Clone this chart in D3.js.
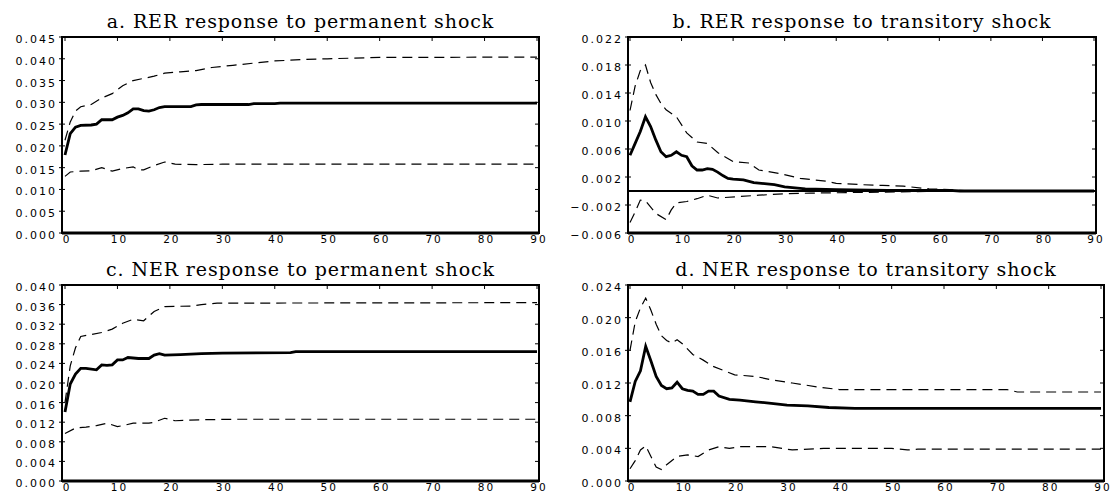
<!DOCTYPE html>
<html>
<head>
<meta charset="utf-8">
<script src="https://cdn.jsdelivr.net/npm/d3@7"></script>
<style>
  body { margin: 0; background: #fff; }
  .title { font-family: "DejaVu Serif", serif; font-size: 19px; letter-spacing: 0.9px; fill: #000; }
  .tick-label { font-family: "DejaVu Sans", sans-serif; font-size: 11px; letter-spacing: 2px; fill: #000; }
  .x-label { font-size: 10.5px; }
</style>
</head>
<body>
<script>
// periods on the horizontal axis
var periodTicks = [0, 10, 20, 30, 40, 50, 60, 70, 80, 90];

// a. RER response to permanent shock  [period, value]
var aMid = [[0,0.0179],[1,0.0228],[2,0.0243],[3,0.0247],[5,0.0248],[6,0.025],[7,0.026],[9,0.026],[10,0.0266],[11,0.027],[12,0.0276],[13,0.0285],[14,0.0285],[15,0.0281],[16,0.028],[17,0.0283],[18,0.0288],[19,0.029],[24,0.029],[25,0.0294],[26,0.0295],[35,0.0295],[36,0.0297],[40,0.0297],[41,0.0298],[90,0.0298]];
var aUp = [[0,0.0213],[1,0.0255],[2,0.028],[3,0.029],[5,0.0295],[7,0.031],[9,0.032],[11,0.0338],[13,0.035],[15,0.0355],[17,0.036],[19,0.0367],[22,0.037],[25,0.0373],[28,0.038],[32,0.0385],[36,0.039],[40,0.0395],[45,0.0398],[50,0.040],[60,0.0403],[90,0.0404]];
var aLo = [[0,0.013],[1,0.014],[3,0.0142],[5,0.0143],[7,0.015],[9,0.0142],[11,0.0148],[13,0.0152],[14,0.0145],[15,0.0145],[17,0.0155],[19,0.0163],[21,0.0158],[25,0.0157],[30,0.0158],[90,0.0158]];
var aTicks = [0, 0.005, 0.010, 0.015, 0.020, 0.025, 0.030, 0.035, 0.040, 0.045];

// b. RER response to transitory shock
var bMid = [[0,0.0051],[1,0.0068],[2,0.0085],[3,0.0106],[4,0.0092],[5,0.0073],[6,0.0056],[7,0.0049],[8,0.0051],[9,0.0056],[10,0.0051],[11,0.0049],[12,0.0036],[13,0.003],[14,0.003],[15,0.0032],[16,0.0031],[17,0.0027],[18,0.0022],[19,0.0018],[20,0.0017],[22,0.0016],[24,0.0012],[28,0.0009],[30,0.0006],[34,0.0003],[40,0.0002],[50,0.0001],[62,0.0001],[64,0],[90,0]];
var bUp = [[0,0.0115],[1,0.015],[2,0.0172],[3,0.018],[4,0.0155],[5,0.0138],[6,0.0125],[7,0.0116],[9,0.0106],[11,0.0083],[13,0.007],[15,0.0068],[17,0.0055],[20,0.0042],[23,0.004],[25,0.003],[29,0.0025],[33,0.0018],[38,0.0014],[40,0.0011],[45,0.0009],[49,0.0008],[53,0.0007],[58,0.0003],[62,0.0002],[66,0],[90,0]];
var bLo = [[0,-0.0045],[1,-0.003],[2,-0.0013],[3,-0.0014],[5,-0.0032],[7,-0.0041],[8,-0.0027],[9,-0.0017],[11,-0.0015],[13,-0.0011],[15,-0.0006],[17,-0.001],[21,-0.0008],[25,-0.0006],[30,-0.0004],[35,-0.0003],[45,-0.0002],[55,-0.0001],[62,0],[90,0]];
var bTicks = [-0.006, -0.002, 0.002, 0.006, 0.010, 0.014, 0.018, 0.022];

// c. NER response to permanent shock
var cMid = [[0,0.0141],[1,0.0198],[2,0.0218],[3,0.023],[4,0.023],[6,0.0227],[7,0.0237],[8,0.0236],[9,0.0237],[10,0.0247],[11,0.0247],[12,0.0252],[14,0.025],[16,0.025],[17,0.0257],[18,0.026],[19,0.0257],[22,0.0258],[26,0.026],[30,0.0261],[43,0.0262],[44,0.0264],[90,0.0264]];
var cUp = [[0,0.016],[1,0.0235],[2,0.0272],[3,0.0295],[5,0.0299],[7,0.0303],[9,0.031],[11,0.0322],[13,0.033],[15,0.0327],[17,0.0346],[19,0.0356],[24,0.0357],[26,0.036],[29,0.0363],[90,0.0364]];
var cLo = [[0,0.0097],[2,0.0108],[4,0.011],[6,0.0113],[8,0.0118],[10,0.0111],[11,0.0113],[13,0.0118],[16,0.0118],[17,0.012],[19,0.0128],[21,0.0123],[26,0.0125],[32,0.0126],[90,0.0126]];
var cTicks = [0, 0.004, 0.008, 0.012, 0.016, 0.020, 0.024, 0.028, 0.032, 0.036, 0.040];

// d. NER response to transitory shock
var dMid = [[0,0.0097],[1,0.0122],[2,0.0135],[3,0.0165],[4,0.0147],[5,0.0128],[6,0.0117],[7,0.0113],[8,0.0114],[9,0.0121],[10,0.0113],[11,0.0111],[12,0.011],[13,0.0106],[14,0.0106],[15,0.011],[16,0.011],[17,0.0104],[19,0.01],[21,0.0099],[24,0.0097],[27,0.0095],[30,0.0093],[34,0.0092],[38,0.009],[43,0.0089],[90,0.0089]];
var dUp = [[0,0.016],[1,0.0195],[2,0.0212],[3,0.0224],[4,0.0209],[5,0.0192],[6,0.0178],[7,0.0172],[8,0.0169],[9,0.0173],[10,0.0168],[12,0.0155],[14,0.0148],[16,0.014],[18,0.0135],[20,0.013],[24,0.0128],[27,0.0124],[31,0.012],[36,0.0115],[40,0.0112],[72,0.0112],[74,0.0109],[90,0.0109]];
var dLo = [[0,0.0015],[1,0.0025],[2,0.0038],[3,0.0043],[4,0.003],[5,0.0017],[6,0.0014],[7,0.002],[9,0.003],[11,0.0032],[13,0.003],[15,0.0038],[17,0.0042],[19,0.004],[21,0.0042],[27,0.0042],[31,0.0038],[37,0.004],[50,0.004],[53,0.0038],[55,0.0039],[90,0.0039]];
var dTicks = [0, 0.004, 0.008, 0.012, 0.016, 0.020, 0.024];

var width = 1111, height = 494;

var svg = d3.select("body").append("svg")
    .attr("width", width)
    .attr("height", height);

var panels = [
  {title: "a. RER response to permanent shock", mid: aMid, up: aUp, lo: aLo, ticks: aTicks,
   left: 62, right: 539, top: 37, bottom: 233, x0: 65, x1: 537, zero: false},
  {title: "b. RER response to transitory shock", mid: bMid, up: bUp, lo: bLo, ticks: bTicks,
   left: 628, right: 1096, top: 37, bottom: 233, x0: 630, x1: 1094, zero: true},
  {title: "c. NER response to permanent shock", mid: cMid, up: cUp, lo: cLo, ticks: cTicks,
   left: 62, right: 539, top: 285, bottom: 481, x0: 65, x1: 537, zero: false},
  {title: "d. NER response to transitory shock", mid: dMid, up: dUp, lo: dLo, ticks: dTicks,
   left: 628, right: 1104, top: 285, bottom: 481, x0: 630, x1: 1101, zero: false}
];

panels.forEach(drawPanel);

function drawPanel(p) {
    var x = d3.scaleLinear().domain([0, 90]).range([p.x0, p.x1]);
    var y = d3.scaleLinear().domain(d3.extent(p.ticks)).range([p.bottom, p.top]);
    var g = svg.append("g");

    var line = d3.line()
        .x(function(d) { return x(d[0]); })
        .y(function(d) { return y(d[1]); });

    // title
    g.append("text")
        .attr("class", "title")
        .attr("x", (p.left + p.right) / 2)
        .attr("y", p.top - 9)
        .attr("text-anchor", "middle")
        .text(p.title);

    // y labels
    g.selectAll(".ylab")
        .data(p.ticks)
        .enter().append("text")
        .attr("class", "tick-label")
        .attr("x", p.left - 5)
        .attr("y", function(d) { return y(d) + 6; })
        .attr("text-anchor", "end")
        .text(function(d) { return d3.format(".3f")(d).replace("-", "\u2212"); });

    // x labels
    g.selectAll(".xlab")
        .data(periodTicks)
        .enter().append("text")
        .attr("class", "tick-label x-label")
        .attr("x", function(d) { return x(d) + 2; })
        .attr("y", p.bottom + 10)
        .attr("text-anchor", "middle")
        .text(function(d) { return d; });

    // inward ticks
    g.selectAll(".tt")
        .data(periodTicks)
        .enter().append("line")
        .attr("x1", function(d) { return x(d); })
        .attr("x2", function(d) { return x(d); })
        .attr("y1", p.top)
        .attr("y2", p.top + 4)
        .style("stroke", "#000");
    g.selectAll(".rt")
        .data(p.ticks)
        .enter().append("line")
        .attr("x1", p.right - 4)
        .attr("x2", p.right)
        .attr("y1", function(d) { return y(d); })
        .attr("y2", function(d) { return y(d); })
        .style("stroke", "#000");
    g.selectAll(".lt")
        .data(p.ticks)
        .enter().append("line")
        .attr("x1", p.left - 3)
        .attr("x2", p.left + 3)
        .attr("y1", function(d) { return y(d); })
        .attr("y2", function(d) { return y(d); })
        .style("stroke", "#000");

    if (p.zero) {
        g.append("line")
            .attr("x1", p.left).attr("x2", p.right)
            .attr("y1", y(0)).attr("y2", y(0))
            .style("stroke", "#000")
            .style("stroke-width", 2);
    }

    // confidence bands
    [p.up, p.lo].forEach(function(s) {
        g.append("path")
            .datum(s)
            .attr("d", line)
            .style("fill", "none")
            .style("stroke", "#000")
            .style("stroke-width", 1.2)
            .style("stroke-dasharray", "10,6");
    });

    // point response
    g.append("path")
        .datum(p.mid)
        .attr("d", line)
        .style("fill", "none")
        .style("stroke", "#000")
        .style("stroke-width", 2.8);

    // frame
    g.append("rect")
        .attr("x", p.left).attr("y", p.top)
        .attr("width", p.right - p.left)
        .attr("height", p.bottom - p.top)
        .style("fill", "none")
        .style("stroke", "#000")
        .style("stroke-width", 2);
    g.append("line")
        .attr("x1", p.left).attr("x2", p.right)
        .attr("y1", p.bottom).attr("y2", p.bottom)
        .style("stroke", "#000")
        .style("stroke-width", 3);
}
</script>
</body>
</html>
